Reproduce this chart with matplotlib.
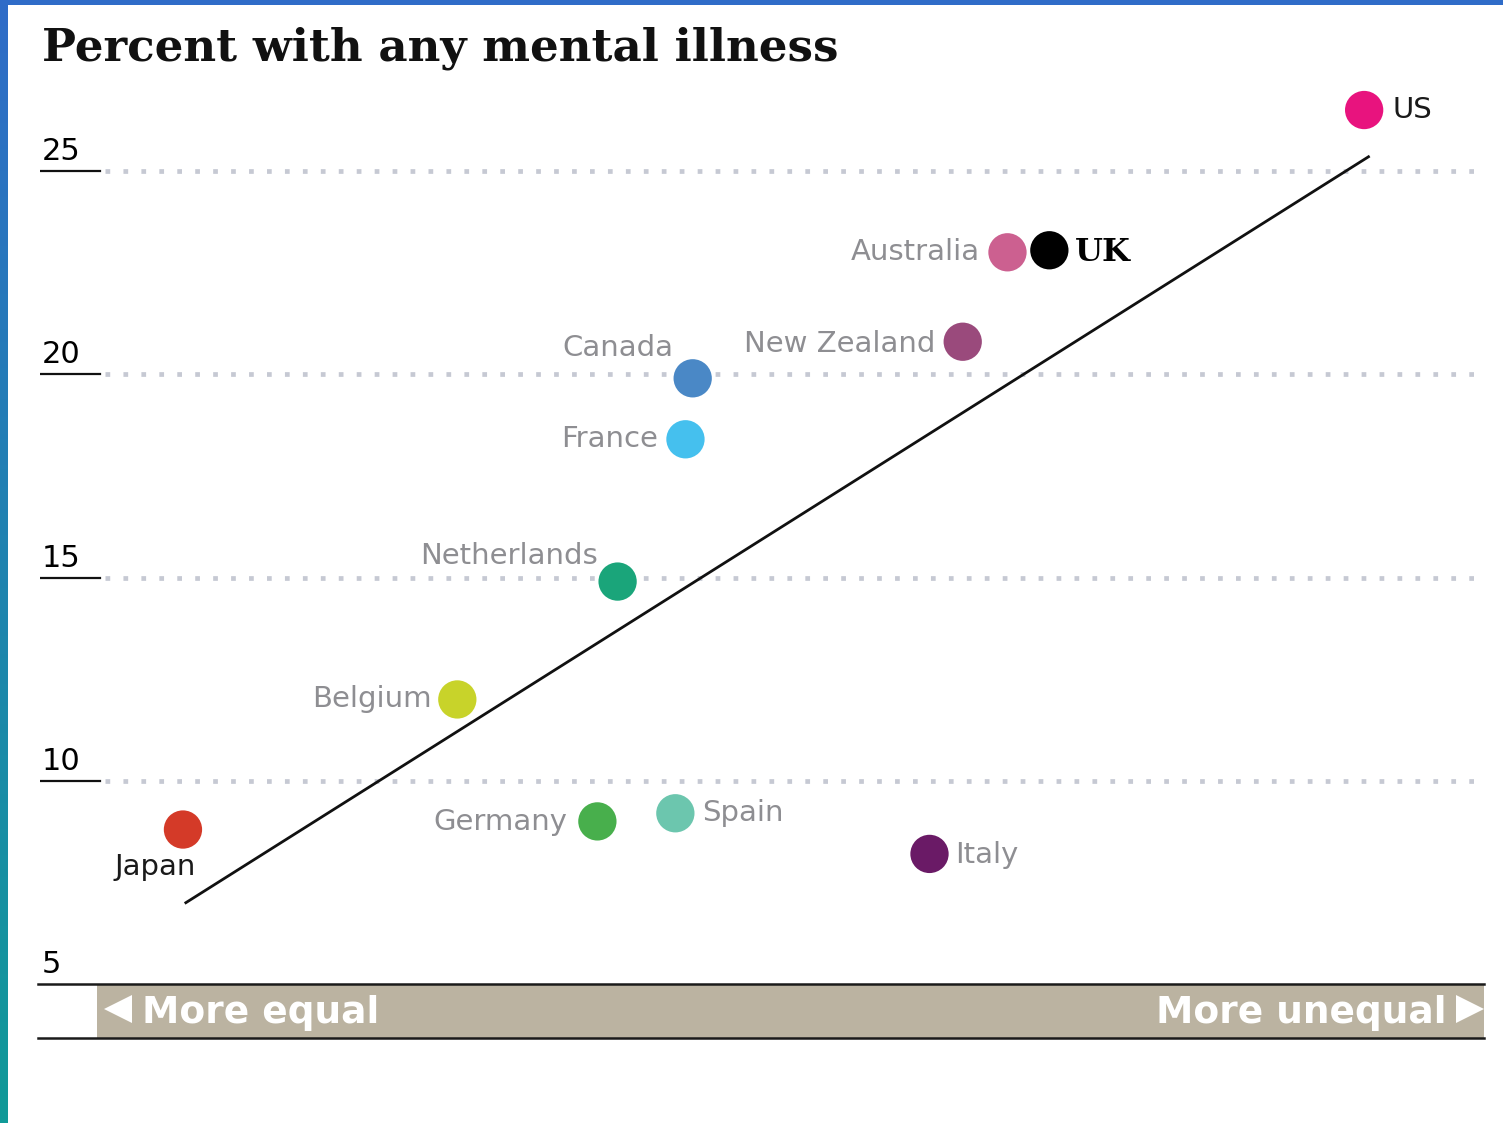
import matplotlib
matplotlib.use("Agg")
import matplotlib.pyplot as plt
import numpy as np
from matplotlib.patches import Rectangle

# ---- data ----
countries = ["US", "Australia", "UK", "New Zealand", "Canada", "France",
             "Netherlands", "Belgium", "Germany", "Spain", "Italy", "Japan"]
inequality = [91.7, 67.0, 69.9, 63.9, 45.2, 44.7, 40.0, 28.9, 38.6, 44.0, 61.6, 9.9]
mental_illness = [26.5, 23.0, 23.05, 20.8, 19.9, 18.4, 14.9, 12.0, 9.0, 9.2, 8.2, 8.8]
colors = ["#e8137e", "#cc6090", "#000000", "#9a4a7c", "#4a88c6", "#45c0ee",
          "#1aa57a", "#c8d32a", "#48af4c", "#6cc6ae", "#6a1a66", "#d43a28"]
trend_x = [10.1, 92.0]
trend_y = [7.0, 25.35]
yticks = [25, 20, 15, 10, 5]
title = "Percent with any mental illness"
left_label = "More equal"
right_label = "More unequal"

# label placement (pixel offsets, alignment)
label_style = {
    "US":          ((28, 0), "left", "center"),
    "Australia":   ((-28, 0), "right", "center"),
    "UK":          ((26, -2), "left", "center"),
    "New Zealand": ((-27, -2), "right", "center"),
    "Canada":      ((-19, 30), "right", "center"),
    "France":      ((-27, 0), "right", "center"),
    "Netherlands": ((-20, 26), "right", "center"),
    "Belgium":     ((-26, 0), "right", "center"),
    "Germany":     ((-30, -1), "right", "center"),
    "Spain":       ((27, 0), "left", "center"),
    "Italy":       ((26, -1), "left", "center"),
    "Japan":       ((-28, -37), "center", "center"),
}

W, H = 1503, 1123
fig = plt.figure(figsize=(W / 100, H / 100), dpi=100)

# axes: x 0..100 -> px 40..1484 ; y 3.5..27.5
ax_left, ax_right = 40, 1484
ppu = 40.65
y_bottom_px = 984 + 1.5 * ppu
ax = fig.add_axes([ax_left / W, (H - y_bottom_px) / H,
                   (ax_right - ax_left) / W, 24 * ppu / H])
ax.set_xlim(0, 100)
ax.set_ylim(3.5, 27.5)
ax.axis("off")

pxu = (ax_right - ax_left) / 100.0  # px per x unit

# gridlines + tick labels
for v in yticks:
    if v != 5:
        ax.plot([65 / pxu, 100], [v, v], color="#c6c9d3", lw=3.4,
                linestyle=(0, (1, 2.8)), zorder=1)
        ax.plot([0, 60 / pxu], [v, v], color="#111111", lw=1.6, zorder=2)
    ax.text(2 / pxu, v + 0.12, str(v), fontsize=22, color="#000000",
            ha="left", va="bottom", family="DejaVu Sans")

# bottom bar
bar_low = 5 - 54 / ppu
ax.add_patch(Rectangle((57 / pxu, bar_low), 100 - 57 / pxu, 5 - bar_low,
                       facecolor="#bbb3a1", edgecolor="none", zorder=1))
ax.plot([-2 / pxu, 100], [5, 5], color="#1a1a1a", lw=1.8, zorder=3, clip_on=False)
ax.plot([-2 / pxu, 100], [bar_low, bar_low], color="#1a1a1a", lw=1.8, zorder=3, clip_on=False)
ymid = (5 + bar_low) / 2
ax.plot([78 / pxu], [ymid + 0.04], marker="<", markersize=20, color="white",
        markeredgewidth=0, zorder=4)
ax.plot([1430 / pxu], [ymid + 0.04], marker=">", markersize=20, color="white",
        markeredgewidth=0, zorder=4)
ax.text(102 / pxu, ymid + 0.05, left_label, fontsize=27, fontweight="bold", color="white",
        ha="left", va="center_baseline", zorder=4)
ax.text(1407 / pxu, ymid + 0.05, right_label, fontsize=27, fontweight="bold", color="white",
        ha="right", va="center_baseline", zorder=4)

# trend line
ax.plot(trend_x, trend_y, color="#111111", lw=2.0, zorder=3)

# points
ax.scatter(inequality, mental_illness, s=760, c=colors, edgecolors="none",
           zorder=5, clip_on=False)

for name, x, y in zip(countries, inequality, mental_illness):
    (dx, dy), ha, va = label_style[name]
    if name == "UK":
        ax.annotate(name, (x, y), xytext=(dx, dy), textcoords="offset pixels",
                    ha=ha, va=va, fontsize=23, fontweight="bold",
                    family="DejaVu Serif", color="#000000", zorder=6)
    else:
        col = "#1a1a1a" if name in ("US", "Japan") else "#8e8e92"
        ax.annotate(name, (x, y), xytext=(dx, dy), textcoords="offset pixels",
                    ha=ha, va=va, fontsize=21, color=col, zorder=6)

# title
fig.text(42 / W, 1 - 61 / H, title, fontsize=32.5, fontweight="bold",
         family="DejaVu Serif", color="#111111", ha="left", va="baseline")

# frame: top bar and left gradient strip
fig.patches.append(Rectangle((0, 1 - 5 / H), 1, 5 / H, transform=fig.transFigure,
                             facecolor="#2f6cc8", edgecolor="none", zorder=10))
gax = fig.add_axes([0, 0, 8 / W, 1])
gax.axis("off")
top = np.array([0x2f, 0x6c, 0xc8]) / 255
bot = np.array([0x10, 0x9a, 0x98]) / 255
t = np.linspace(0, 1, 256)[:, None]
grad = (1 - t) * top + t * bot
gax.imshow(grad[:, None, :], aspect="auto", extent=[0, 1, 0, 1])

fig.savefig("out.png", dpi=100)
